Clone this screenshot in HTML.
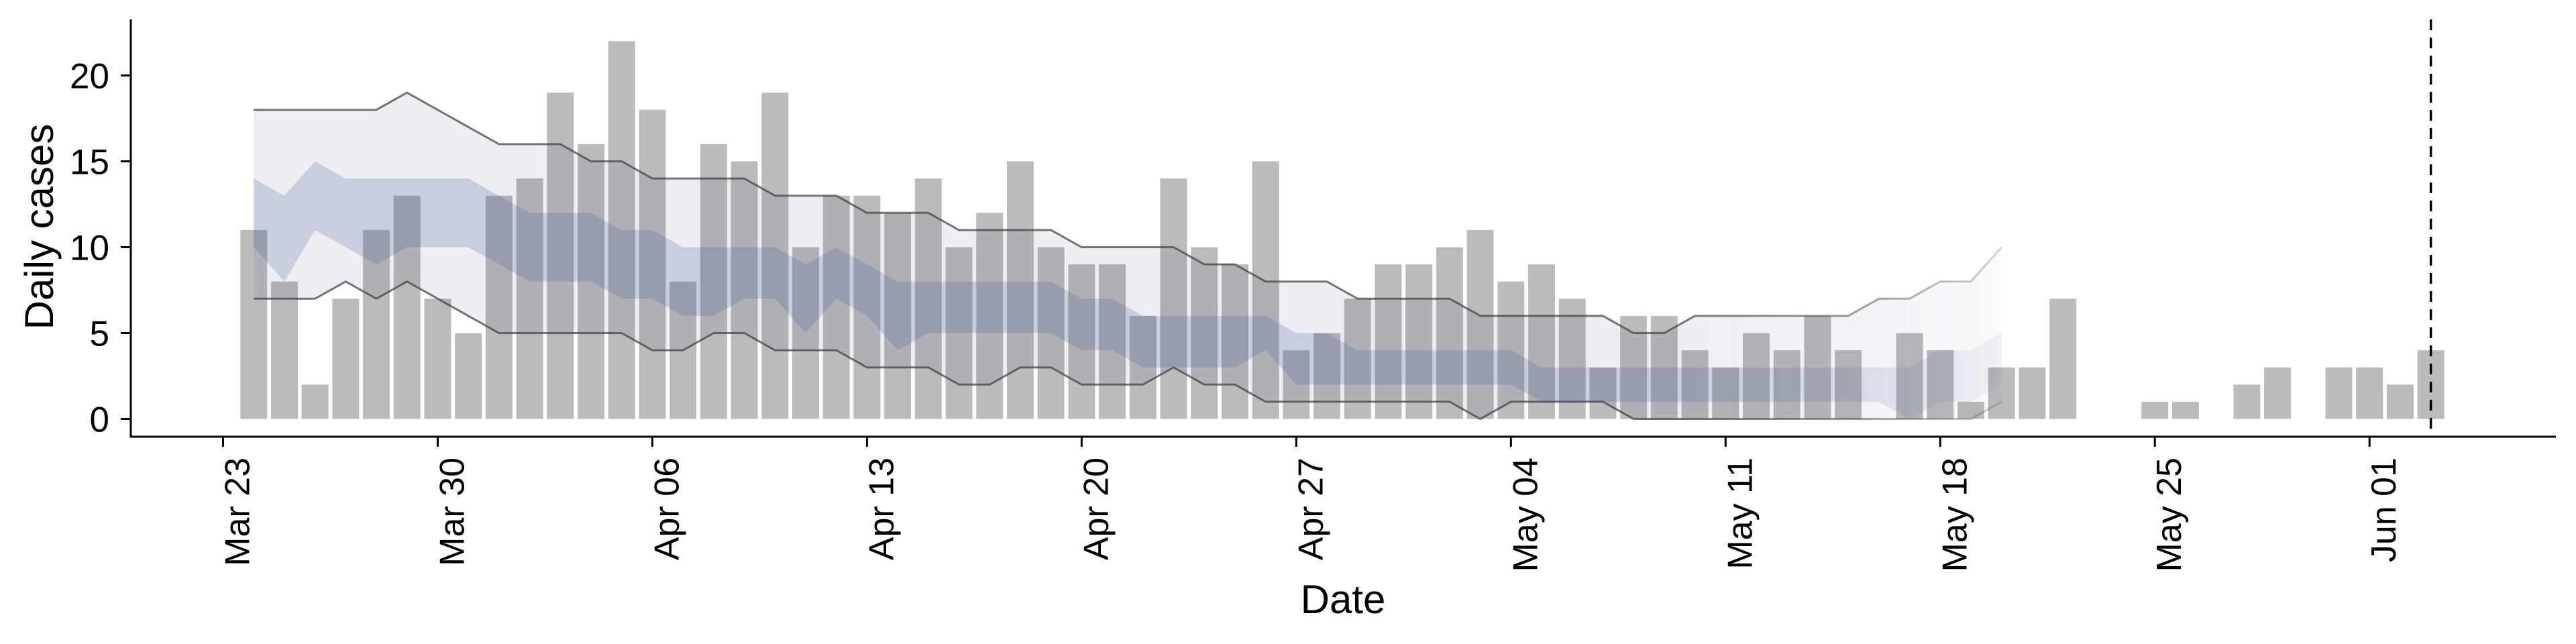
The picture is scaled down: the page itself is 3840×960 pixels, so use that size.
<!DOCTYPE html>
<html><head><meta charset="utf-8"><style>
html,body{margin:0;padding:0;background:#fff;}
svg{display:block;font-family:"Liberation Sans",Arial,sans-serif;}
</style></head><body>
<svg id="chart" width="3840" height="960" viewBox="0 0 3840 960" xmlns="http://www.w3.org/2000/svg">
<defs>
<linearGradient id="fadeGrad" gradientUnits="userSpaceOnUse" x1="2480" y1="0" x2="2990" y2="0">
<stop offset="0" stop-color="#fff" stop-opacity="1"/>
<stop offset="0.6" stop-color="#fff" stop-opacity="0.7"/>
<stop offset="1" stop-color="#fff" stop-opacity="0.3"/>
</linearGradient>
<mask id="fadeMask" maskUnits="userSpaceOnUse" x="0" y="0" width="3840" height="960">
<rect x="0" y="0" width="3840" height="960" fill="url(#fadeGrad)"/>
</mask>
</defs>
<g id="bars"></g>
<g id="bands" mask="url(#fadeMask)"></g>
<g id="axes"></g>
</svg>
<script>
// Day index 0 = Mar 23
const caseValues = [0,11,8,2,7,11,13,7,5,13,14,19,16,22,18,8,16,15,19,10,13,13,12,14,10,12,15,10,9,9,6,14,10,9,15,4,5,7,9,9,10,11,8,9,7,3,6,6,4,3,5,4,6,4,0,5,4,1,3,3,7,0,0,1,1,0,2,3,0,3,3,2,4];
// bands start at day 1 (Mar 24) through day 58 (May 20)
const bandStartDay = 1;
const outerUpper = [18,18,18,18,18,19,18,17,16,16,16,15,15,14,14,14,14,13,13,13,12,12,12,11,11,11,11,10,10,10,10,9,9,8,8,8,7,7,7,7,6,6,6,6,6,5,5,6,6,6,6,6,6,7,7,8,8,10];
const outerLower = [7,7,7,8,7,8,7,6,5,5,5,5,5,4,4,5,5,4,4,4,3,3,3,2,2,3,3,2,2,2,3,2,2,1,1,1,1,1,1,1,0,1,1,1,1,0,0,0,0,0,0,0,0,0,0,0,0,1];
const innerUpper = [14,13,15,14,14,14,14,14,13,12,12,12,11,11,10,10,10,10,9,10,9,8,8,8,8,8,8,7,7,6,6,6,6,6,5,5,4,4,4,4,4,4,3,3,3,3,3,3,3,3,3,3,3,3,3,4,4,5];
const innerLower = [10,8,11,10,9,10,10,10,9,8,8,8,7,7,6,6,7,7,5,7,6,4,5,5,5,5,5,4,4,3,3,3,3,4,2,2,2,2,2,2,2,2,1,1,1,1,1,1,1,1,1,1,1,1,0,1,1,2];
const yTicks = [0,5,10,15,20];
const xTickDays = [0,7,14,21,28,35,42,49,56,63,70];
const xTickLabels = ["Mar 23","Mar 30","Apr 06","Apr 13","Apr 20","Apr 27","May 04","May 11","May 18","May 25","Jun 01"];
const markerDay = 72;

const NS = "http://www.w3.org/2000/svg";
const X0 = 332.5, DX = 45.71;
const Y0 = 624.5, DY = 25.6;
function xs(d){ return X0 + d*DX; }
function ys(v){ return Y0 - v*DY; }
function mk(tag, attrs, parent){
  const el = document.createElementNS(NS, tag);
  for (const k in attrs) el.setAttribute(k, attrs[k]);
  parent.appendChild(el);
  return el;
}
const gBars = document.getElementById('bars');
const gBands = document.getElementById('bands');
const gAxes = document.getElementById('axes');
const bw = 0.875*DX;
caseValues.forEach((v,i)=>{
  if (v <= 0) return;
  const r = mk('rect',{x:xs(i)-bw/2, y:ys(v), width:bw, height:v*DY, fill:'#bbbbbb'}, gBars);
  
  
});
function bandPath(up, lo){
  let p = '';
  up.forEach((v,i)=>{ p += (i?'L':'M') + xs(bandStartDay+i) + ',' + ys(v); });
  for (let i=lo.length-1;i>=0;i--) p += 'L' + xs(bandStartDay+i) + ',' + ys(lo[i]);
  return p + 'Z';
}
function linePath(arr){
  let p='';
  arr.forEach((v,i)=>{ p += (i?'L':'M') + xs(bandStartDay+i) + ',' + ys(v); });
  return p;
}
const ob = mk('path',{d:bandPath(outerUpper,outerLower), fill:'rgb(50,70,130)', 'fill-opacity':0.09}, gBands);


const ib = mk('path',{d:bandPath(innerUpper,innerLower), fill:'rgb(70,90,140)', 'fill-opacity':0.22}, gBands);


const ul = mk('path',{d:linePath(outerUpper), fill:'none', stroke:'#3c3c3c', 'stroke-opacity':0.7, 'stroke-width':3}, gBands);


const ll = mk('path',{d:linePath(outerLower), fill:'none', stroke:'#3c3c3c', 'stroke-opacity':0.7, 'stroke-width':3}, gBands);



// axes
const ys1 = mk('line',{x1:195, y1:29, x2:195, y2:652.5, stroke:'#000', 'stroke-width':3}, gAxes);


const xs1 = mk('line',{x1:193.5, y1:651, x2:3810, y2:651, stroke:'#000', 'stroke-width':3}, gAxes);


yTicks.forEach(v=>{
  const t = mk('line',{x1:180, y1:ys(v), x2:195, y2:ys(v), stroke:'#000', 'stroke-width':3}, gAxes);
  
  
  const l = mk('text',{x:163, y:ys(v)+19, 'text-anchor':'end', 'font-size':53, fill:'#000'}, gAxes);
  l.textContent = v;
  
  
});
xTickDays.forEach((d,i)=>{
  const x = xs(d);
  const t = mk('line',{x1:x, y1:651, x2:x, y2:666, stroke:'#000', 'stroke-width':3}, gAxes);
  
  
  const bx = x+39, by = 682;
  const l = mk('text',{x:bx, y:by, 'text-anchor':'end', 'font-size':52, fill:'#000', transform:'rotate(-90 '+bx+' '+by+')'}, gAxes);
  l.textContent = xTickLabels[i];
  
  
});
const dl = mk('line',{x1:xs(markerDay), y1:29, x2:xs(markerDay), y2:651, stroke:'#000', 'stroke-width':3.5, 'stroke-dasharray':'16 11'}, gAxes);


const yt = mk('text',{x:79, y:338, 'text-anchor':'middle', 'font-size':60, fill:'#000', transform:'rotate(-90 79 338)'}, gAxes);
yt.textContent = 'Daily cases';


const xt = mk('text',{x:2002, y:914, 'text-anchor':'middle', 'font-size':60, fill:'#000'}, gAxes);
xt.textContent = 'Date';


</script>
</body></html>
